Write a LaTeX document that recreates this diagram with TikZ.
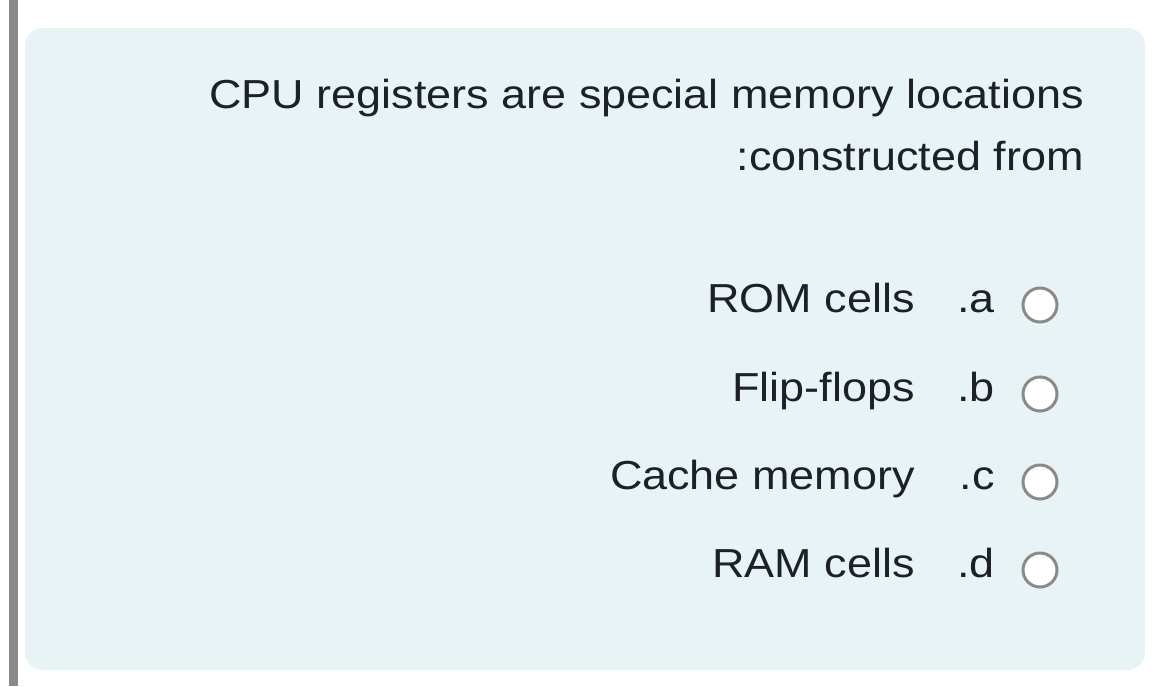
\documentclass[tikz,border=0pt]{standalone}
\usepackage{fontspec}
\setmainfont[FakeStretch=1.11]{Liberation Sans}
\definecolor{panel}{HTML}{E7F3F5}
\definecolor{txt}{HTML}{1D2125}
\definecolor{bar}{HTML}{8A8A8A}
\begin{document}
\begin{tikzpicture}[x=1pt,y=-1pt,
  qtext/.style={anchor=base east,inner sep=0pt,font=\fontsize{40.5}{48}\selectfont,text=txt},
  radio/.style={circle,draw=bar,line width=3pt,fill=white,minimum size=34pt,inner sep=0pt}]
\useasboundingbox (0,0) rectangle (1170,686);
\fill[white] (0,0) rectangle (1170,686);
\fill[bar] (9,0) rectangle (18,686);
\fill[panel,rounded corners=18pt] (25,28) rectangle (1145,670);
\node[qtext] (q1) at (1084,108) {CPU registers are special memory locations};
\node[qtext] (q2) at (1084,170) {:constructed from};
\foreach \y/\t/\l/\n in {298/ROM cells/.a/a,387/Flip-flops/.b/b,475/Cache memory/.c/c,563/RAM cells/.d/d}{
  \node[qtext] (t\n) at (915,\y+14) {\t};
  \node[qtext] (l\n) at (995,\y+14) {\l};
  \node[radio] (r\n) at (1040,\y+7) {};
}
\end{tikzpicture}
\end{document}
